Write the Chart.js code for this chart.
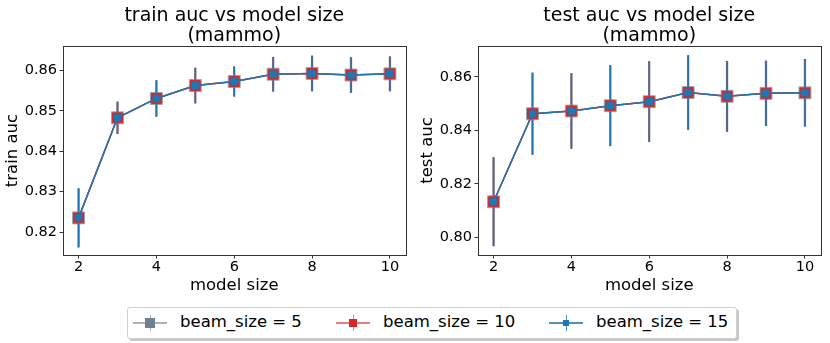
<!DOCTYPE html>
<html>
<head>
<meta charset="utf-8">
<script src="https://cdn.jsdelivr.net/npm/chart.js@4.4.1/dist/chart.umd.min.js"></script>
<style>
  body { margin: 0; background: #fff; font-family: 'DejaVu Sans', sans-serif; }
  #wrap { position: relative; width: 830px; height: 343px; }
  .panel { position: absolute; top: 0; width: 415px; height: 300px; }
  #legend { position: absolute; left: 127px; top: 307px; width: 608px; height: 30px;
    border: 1px solid #d0d0d0; border-radius: 3px; background: #fff;
    box-shadow: 2px 2px 0 rgba(0,0,0,0.22); }
  .item { position: absolute; top: 0; height: 30px; }
  .handle { position: absolute; top: 0; width: 34px; height: 30px; }
  .hline { position: absolute; left: 0; top: 14px; width: 34px; height: 1.5px; }
  .vline { position: absolute; left: 16.5px; top: 7px; width: 1.5px; height: 16px; }
  .mark { position: absolute; }
  .label { position: absolute; top: 4px; font-size: 16.5px; white-space: nowrap; color: #000; }
</style>
</head>
<body>
<div id="wrap">
  <div class="panel" style="left:0"><canvas id="trainChart" width="415" height="300"></canvas></div>
  <div class="panel" style="left:415px"><canvas id="testChart" width="415" height="300"></canvas></div>
  <div id="legend"></div>
</div>
<script>
const modelSizes = [2, 3, 4, 5, 6, 7, 8, 9, 10];
const beamSizes = [5, 10, 15];
const beamColors = ['rgba(112,128,144,0.6)', '#d62728', '#1f77b4'];
const legendColors = ['#708090', '#d62728', '#1f77b4'];
const legendLineColors = ['rgba(112,128,144,0.6)', 'rgba(214,39,40,0.6)', 'rgba(31,119,180,0.8)'];

// the three beam sizes give the same curve, they sit on top of each other
const trainAuc = [0.8235, 0.8483, 0.8531, 0.8563, 0.8573, 0.8591, 0.8593, 0.8589, 0.8592];
const trainErr = [0.0073, 0.0040, 0.0045, 0.0044, 0.0037, 0.0043, 0.0044, 0.0044, 0.0043];
const testAuc = [0.8133, 0.8462, 0.8472, 0.8492, 0.8507, 0.8541, 0.8527, 0.8538, 0.8540];
const testErr = [0.0166, 0.0153, 0.0141, 0.0151, 0.0151, 0.0139, 0.0132, 0.0122, 0.0126];

const xTicks = [2, 4, 6, 8, 10];

const FONT = "'DejaVu Sans', sans-serif";
const markRadius = [8.5, 7, 5];
const markBorder = [1, 1, 0.5];
const errWidth = [2.5, 1.5, 1.5];

const errorBars = {
  id: 'errorBars',
  beforeDatasetsDraw(chart) {
    const { ctx, scales: { x, y } } = chart;
    chart.data.datasets.forEach((ds) => {
      ctx.save();
      ctx.strokeStyle = ds.borderColor;
      ctx.lineWidth = ds.errWidth;
      ds.data.forEach((p, i) => {
        const px = x.getPixelForValue(p.x);
        ctx.beginPath();
        ctx.moveTo(px, y.getPixelForValue(p.y - ds.err[i]));
        ctx.lineTo(px, y.getPixelForValue(p.y + ds.err[i]));
        ctx.stroke();
      });
      ctx.restore();
    });
  }
};

// box round the plot, and the two-line title centred over the plot area
const frame = {
  id: 'frame',
  afterDraw(chart, args, opts) {
    const { ctx, chartArea: a } = chart;
    ctx.save();
    ctx.strokeStyle = '#333';
    ctx.lineWidth = 1;
    ctx.strokeRect(Math.round(a.left) + 0.5, Math.round(a.top) + 0.5,
      Math.round(a.right - a.left), Math.round(a.bottom - a.top));
    ctx.font = '19px ' + FONT;
    ctx.fillStyle = '#000';
    ctx.textAlign = 'center';
    ctx.textBaseline = 'alphabetic';
    const cx = (a.left + a.right) / 2;
    opts.lines.forEach((t, i) => ctx.fillText(t, cx, 21 + i * 19.5));
    ctx.restore();
  }
};

function makeChart(id, title, yLabel, values, errs, yMin, yMax, yStep) {
  const datasets = beamSizes.map((b, k) => ({
    label: 'beam_size = ' + b,
    data: modelSizes.map((m, i) => ({ x: m, y: values[i] })),
    err: errs,
    errWidth: errWidth[k],
    borderColor: beamColors[k],
    backgroundColor: beamColors[k],
    borderWidth: 1.5,
    pointStyle: 'rect',
    pointRadius: markRadius[k],
    pointBorderWidth: markBorder[k],
    pointBorderColor: beamColors[k],
    pointBackgroundColor: beamColors[k],
    tension: 0,
    order: 3 - k
  }));

  return new Chart(document.getElementById(id), {
    type: 'line',
    data: { datasets },
    plugins: [errorBars, frame],
    options: {
      responsive: false,
      animation: false,
      layout: { padding: { left: 0, right: 6, top: 46, bottom: 0 } },
      plugins: {
        legend: { display: false },
        tooltip: { enabled: false },
        title: { display: false },
        frame: { lines: [title, '(mammo)'] }
      },
      scales: {
        x: {
          type: 'linear',
          min: 1.6,
          max: 10.4,
          afterFit: (s) => { s.height = 45; },
          afterBuildTicks: (s) => { s.ticks = xTicks.map((v) => ({ value: v })); },
          grid: { display: true, drawOnChartArea: false, drawTicks: true, tickLength: 3.5, color: '#333' },
          border: { display: true, color: '#333' },
          ticks: { color: '#000', padding: 0.5, font: { family: FONT, size: 14.5 }, callback: (v) => String(v) },
          title: { display: true, text: 'model size', color: '#000', padding: { top: 0, bottom: 4 },
            font: { family: FONT, size: 16.5 } }
        },
        y: {
          min: yMin,
          max: yMax,
          afterFit: (s) => { s.width = 63; },
          grid: { display: true, drawOnChartArea: false, drawTicks: true, tickLength: 3.5, color: '#333' },
          border: { display: true, color: '#333' },
          ticks: { color: '#000', padding: 2.5, stepSize: yStep, includeBounds: false,
            font: { family: FONT, size: 14.5 }, callback: (v) => v.toFixed(2) },
          title: { display: true, text: yLabel, color: '#000', padding: { top: 3, bottom: 0 },
            font: { family: FONT, size: 16.5 } }
        }
      }
    }
  });
}

makeChart('trainChart', 'train auc vs model size', 'train auc', trainAuc, trainErr, 0.8143, 0.8661, 0.01);
makeChart('testChart', 'test auc vs model size', 'test auc', testAuc, testErr, 0.7934, 0.8715, 0.02);

// shared legend below both panels
const legendEl = document.getElementById('legend');
const handleLeft = [5, 208, 421];
const markSide = [10, 8, 6];
beamSizes.forEach((b, k) => {
  const item = document.createElement('div');
  item.className = 'item';
  item.style.left = handleLeft[k] + 'px';
  const s = markSide[k];
  item.innerHTML =
    '<div class="handle">' +
      '<div class="hline" style="background:' + legendLineColors[k] + '"></div>' +
      '<div class="vline" style="background:' + legendLineColors[k] + '"></div>' +
      '<div class="mark" style="background:' + legendColors[k] + ';width:' + s + 'px;height:' + s +
        'px;left:' + (17.25 - s / 2) + 'px;top:' + (14.75 - s / 2) + 'px"></div>' +
    '</div>' +
    '<div class="label" style="left:47px">beam_size = ' + b + '</div>';
  legendEl.appendChild(item);
});
</script>
</body>
</html>
